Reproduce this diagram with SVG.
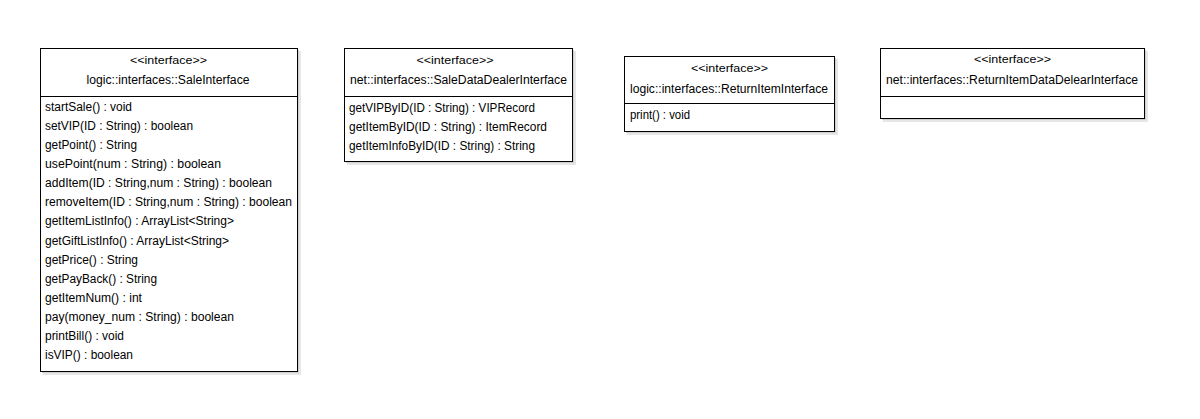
<svg xmlns="http://www.w3.org/2000/svg" width="1200" height="419" viewBox="0 0 1200 419">
<style>
.bg{fill:#ffffff}
.box{fill:#ffffff;stroke:#000000;stroke-width:1}
.sh{fill:#cfcfcf}
.sh2{fill:#e6e6e6}
.div{stroke:#000000;stroke-width:1}
text{font-family:"Liberation Sans",Arial,sans-serif;fill:#000000}
.st{font-size:11px;text-anchor:middle}
.nm{font-size:12px;text-anchor:middle}
.mb{font-size:12px}
</style>
<rect class="bg" x="0" y="0" width="1200" height="419"/>
<g id="SaleInterface">
<rect class="sh2" x="43" y="51" width="258" height="324"/>
<rect class="sh" x="42" y="50" width="257" height="323"/>
<rect class="box" x="40.5" y="48.5" width="257" height="323"/>
<line class="div" x1="40.5" y1="96.5" x2="297.5" y2="96.5"/>
<text class="st" x="168.5" y="63.5" textLength="77" lengthAdjust="spacingAndGlyphs">&lt;&lt;interface&gt;&gt;</text>
<text class="nm" x="168" y="84" textLength="163" lengthAdjust="spacingAndGlyphs">logic::interfaces::SaleInterface</text>
<text class="mb" x="45" y="111" textLength="87" lengthAdjust="spacingAndGlyphs">startSale() : void</text>
<text class="mb" x="45" y="130" textLength="148" lengthAdjust="spacingAndGlyphs">setVIP(ID : String) : boolean</text>
<text class="mb" x="45" y="149" textLength="92" lengthAdjust="spacingAndGlyphs">getPoint() : String</text>
<text class="mb" x="45" y="168" textLength="176" lengthAdjust="spacingAndGlyphs">usePoint(num : String) : boolean</text>
<text class="mb" x="45" y="187" textLength="227" lengthAdjust="spacingAndGlyphs">addItem(ID : String,num : String) : boolean</text>
<text class="mb" x="45" y="206" textLength="247" lengthAdjust="spacingAndGlyphs">removeItem(ID : String,num : String) : boolean</text>
<text class="mb" x="45" y="225" textLength="189" lengthAdjust="spacingAndGlyphs">getItemListInfo() : ArrayList&lt;String&gt;</text>
<text class="mb" x="45" y="244.5" textLength="184" lengthAdjust="spacingAndGlyphs">getGiftListInfo() : ArrayList&lt;String&gt;</text>
<text class="mb" x="45" y="263.5" textLength="93" lengthAdjust="spacingAndGlyphs">getPrice() : String</text>
<text class="mb" x="45" y="282.5" textLength="112" lengthAdjust="spacingAndGlyphs">getPayBack() : String</text>
<text class="mb" x="45" y="301.5" textLength="97" lengthAdjust="spacingAndGlyphs">getItemNum() : int</text>
<text class="mb" x="45" y="320.5" textLength="189" lengthAdjust="spacingAndGlyphs">pay(money_num : String) : boolean</text>
<text class="mb" x="45" y="339.5" textLength="79" lengthAdjust="spacingAndGlyphs">printBill() : void</text>
<text class="mb" x="45" y="358.5" textLength="88" lengthAdjust="spacingAndGlyphs">isVIP() : boolean</text>
</g>
<g id="SaleDataDealerInterface">
<rect class="sh2" x="347" y="51" width="229" height="114"/>
<rect class="sh" x="346" y="50" width="228" height="113"/>
<rect class="box" x="344.5" y="48.5" width="228" height="113"/>
<line class="div" x1="344.5" y1="96.5" x2="572.5" y2="96.5"/>
<text class="st" x="455" y="63.5" textLength="77" lengthAdjust="spacingAndGlyphs">&lt;&lt;interface&gt;&gt;</text>
<text class="nm" x="458.5" y="84" textLength="217" lengthAdjust="spacingAndGlyphs">net::interfaces::SaleDataDealerInterface</text>
<text class="mb" x="349" y="111.5" textLength="186" lengthAdjust="spacingAndGlyphs">getVIPByID(ID : String) : VIPRecord</text>
<text class="mb" x="349" y="130.5" textLength="198" lengthAdjust="spacingAndGlyphs">getItemByID(ID : String) : ItemRecord</text>
<text class="mb" x="349" y="150" textLength="186" lengthAdjust="spacingAndGlyphs">getItemInfoByID(ID : String) : String</text>
</g>
<g id="ReturnItemInterface">
<rect class="sh2" x="627" y="59" width="211" height="76"/>
<rect class="sh" x="626" y="58" width="210" height="75"/>
<rect class="box" x="624.5" y="56.5" width="210" height="75"/>
<line class="div" x1="624.5" y1="103.5" x2="834.5" y2="103.5"/>
<text class="st" x="729.5" y="71.7" textLength="77" lengthAdjust="spacingAndGlyphs">&lt;&lt;interface&gt;&gt;</text>
<text class="nm" x="729" y="93" textLength="198" lengthAdjust="spacingAndGlyphs">logic::interfaces::ReturnItemInterface</text>
<text class="mb" x="630" y="118.5" textLength="60" lengthAdjust="spacingAndGlyphs">print() : void</text>
</g>
<g id="ReturnItemDataDelearInterface">
<rect class="sh2" x="883" y="51" width="265" height="71"/>
<rect class="sh" x="882" y="50" width="264" height="70"/>
<rect class="box" x="880.5" y="48.5" width="264" height="70"/>
<line class="div" x1="880.5" y1="96.5" x2="1144.5" y2="96.5"/>
<text class="st" x="1012.5" y="63" textLength="77" lengthAdjust="spacingAndGlyphs">&lt;&lt;interface&gt;&gt;</text>
<text class="nm" x="1012" y="84" textLength="252" lengthAdjust="spacingAndGlyphs">net::interfaces::ReturnItemDataDelearInterface</text>
</g>
<g id="connectors"></g>
</svg>
